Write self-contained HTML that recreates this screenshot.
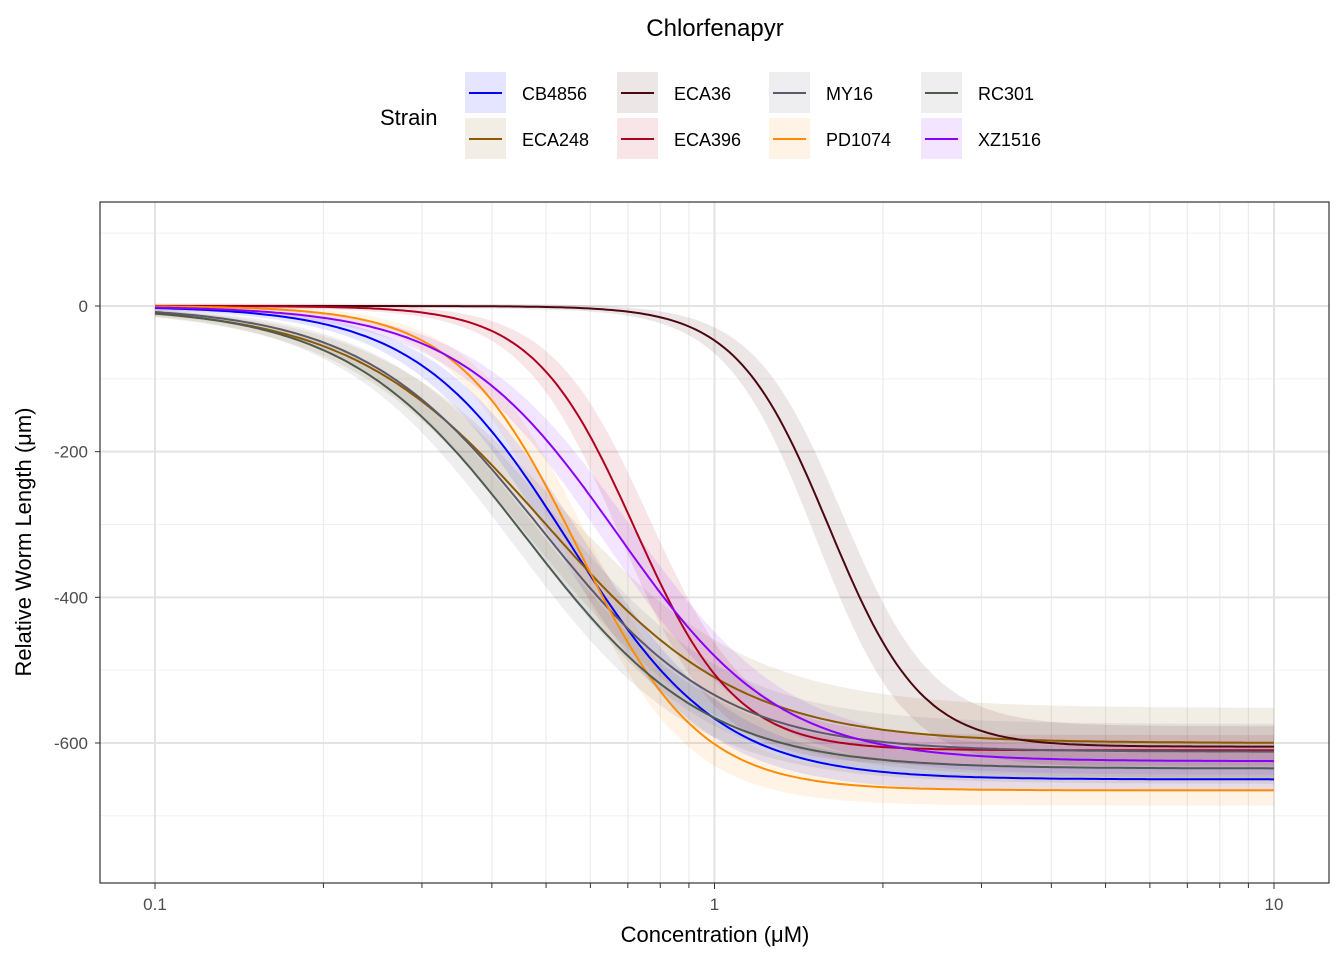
<!DOCTYPE html>
<html><head><meta charset="utf-8"><style>
body{margin:0;background:#fff;}
svg{display:block;font-family:"Liberation Sans",Arial,sans-serif;}
</style></head><body>
<svg id="chart" width="1344" height="960">
<text x="715" y="36" font-size="24" text-anchor="middle">Chlorfenapyr</text>
<text x="380" y="125" font-size="22">Strain</text>
<g id="legend"></g>
<g id="grid"></g>
<g id="ribbons"></g>
<g id="lines"></g>
<rect x="100" y="202" width="1229" height="681" fill="none" stroke="#333" stroke-width="1.2"/>
<g id="axes"></g>
<text x="715" y="942" font-size="22" text-anchor="middle">Concentration (μM)</text>
<text transform="translate(31,542) rotate(-90)" font-size="22" text-anchor="middle">Relative Worm Length (μm)</text>
</svg>
<script>
const strains = ["CB4856","ECA248","ECA36","ECA396","MY16","PD1074","RC301","XZ1516"];
const colors = ["#0000ff","#8b5a00","#4a0810","#b00020","#5a5a6a","#ff8c00","#4f5b4f","#8a00ff"];
const bottoms = [-650,-600,-605,-610,-612,-665,-635,-625];
const ec50s = [0.55,0.5,1.6,0.72,0.49,0.57,0.46,0.67];
const slopes = [3.2,2.5,5.25,4.8,2.7,4.0,2.7,3.0];
const bandEnd = [14,45,25,18,35,18,18,16];
const bandMid = [25,20,45,45,20,30,20,25];
const yTicks = [0,-200,-400,-600];
const yMinor = [100,-100,-300,-500,-700];
const xTicks = [0.1,1,10];
const NS="http://www.w3.org/2000/svg";
const X = v => 155 + (Math.log10(v) + 1) * 559.5;
const Y = v => 306 - v * 0.7283;
function mk(tag, attrs, parent){const e=document.createElementNS(NS,tag);for(const k in attrs)e.setAttribute(k,attrs[k]);parent.appendChild(e);return e;}
const grid=document.getElementById('grid'), axes=document.getElementById('axes');
mk('rect',{x:100,y:202,width:1229,height:681,fill:'#fff'},grid);
yMinor.forEach(v=>{const l=mk('line',{x1:100,x2:1329,y1:Y(v),y2:Y(v),stroke:'#f0f0f0','stroke-width':1},grid);

});
for(let d=-1; d<1; d++){for(let m=2;m<=9;m++){const v=m*Math.pow(10,d);
const l=mk('line',{x1:X(v),x2:X(v),y1:202,y2:883,stroke:'#ececec','stroke-width':1.2},grid);


mk('line',{x1:X(v),x2:X(v),y1:883,y2:888,stroke:'#333'},axes);}}
yTicks.forEach(v=>{const l=mk('line',{x1:100,x2:1329,y1:Y(v),y2:Y(v),stroke:'#e3e3e3','stroke-width':2},grid);


mk('line',{x1:95,x2:100,y1:Y(v),y2:Y(v),stroke:'#333'},axes);
const t=mk('text',{x:88,y:Y(v)+6,'font-size':17,fill:'#4d4d4d','text-anchor':'end'},axes);t.textContent=v;

});
xTicks.forEach(v=>{const l=mk('line',{x1:X(v),x2:X(v),y1:202,y2:883,stroke:'#e3e3e3','stroke-width':2},grid);


mk('line',{x1:X(v),x2:X(v),y1:883,y2:889,stroke:'#333'},axes);
const t=mk('text',{x:X(v),y:910,'font-size':17,fill:'#4d4d4d','text-anchor':'middle'},axes);t.textContent=v;

});
const f=(i,x)=>bottoms[i]/(1+Math.pow(ec50s[i]/x,slopes[i]));
const rib=document.getElementById('ribbons'), lines=document.getElementById('lines');
strains.forEach((s,i)=>{
  let up=[],lo=[],ln=[];
  for(let k=0;k<=240;k++){const x=Math.pow(10,-1+2*k/240);const y=f(i,x);const fr=y/bottoms[i];
    const h=3+bandEnd[i]*fr+bandMid[i]*4*fr*(1-fr);
    ln.push(X(x).toFixed(1)+','+Y(y).toFixed(1));up.push(X(x).toFixed(1)+','+Y(y+h).toFixed(1));lo.push(X(x).toFixed(1)+','+Y(y-h).toFixed(1));}
  const r=mk('polygon',{points:up.concat(lo.reverse()).join(' '),fill:colors[i],'fill-opacity':0.1},rib);
  
  
  const p=mk('polyline',{points:ln.join(' '),fill:'none',stroke:colors[i],'stroke-width':2},lines);
  
  
});
const leg=document.getElementById('legend');
strains.forEach((s,i)=>{const col=Math.floor(i/2),row=i%2;const kx=465+col*152,ky=72+row*46;
  const g=mk('g',{},leg);
  
  
  mk('rect',{x:kx,y:ky,width:41,height:41,fill:colors[i],'fill-opacity':0.1},g);
  mk('line',{x1:kx+4,x2:kx+37,y1:ky+21,y2:ky+21,stroke:colors[i],'stroke-width':2},g);
  const t=mk('text',{x:kx+57,y:ky+28,'font-size':18},g);t.textContent=s;});
</script>
</body></html>
